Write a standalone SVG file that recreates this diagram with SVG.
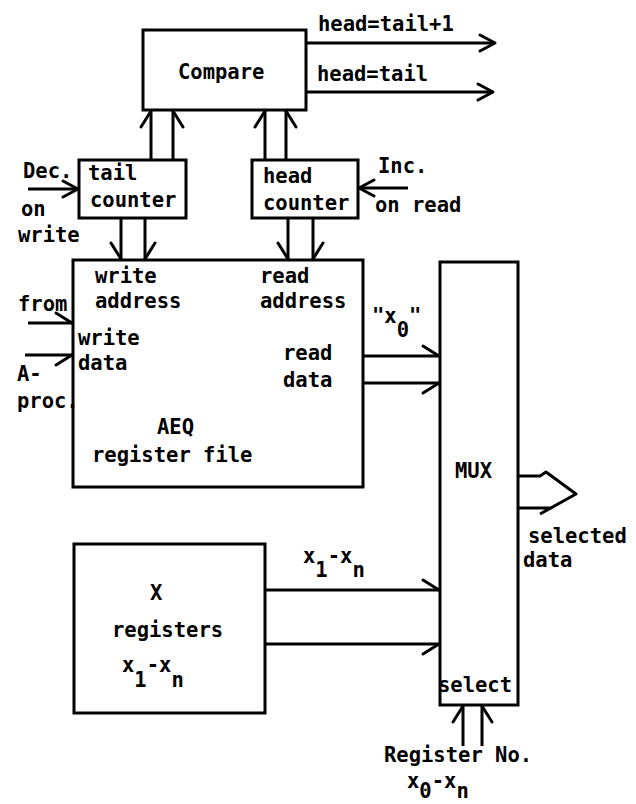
<svg xmlns="http://www.w3.org/2000/svg" width="636" height="804" viewBox="0 0 636 804">
<style>
  .box { fill: none; stroke: #000; stroke-width: 3; }
  .ln { fill: none; stroke: #000; stroke-width: 3; }
  text { font-family: "DejaVu Sans Mono", "Liberation Mono", monospace; font-size: 20.5px; font-weight: bold; fill: #000; }
</style>
<defs>
  <marker id="ah" viewBox="-20 -20 40 40" refX="0" refY="0" markerWidth="40" markerHeight="40" markerUnits="userSpaceOnUse" orient="auto">
    <path d="M-15,-8 L0,0 L-15,8" fill="none" stroke="#000" stroke-width="3" stroke-linecap="round" stroke-linejoin="round"/>
  </marker>
  <marker id="bn" viewBox="-20 -20 40 40" refX="0" refY="0" markerWidth="40" markerHeight="40" markerUnits="userSpaceOnUse" orient="auto">
    <path d="M-16,-10 L0,0" fill="none" stroke="#000" stroke-width="3" stroke-linecap="round"/>
  </marker>
  <marker id="bp" viewBox="-20 -20 40 40" refX="0" refY="0" markerWidth="40" markerHeight="40" markerUnits="userSpaceOnUse" orient="auto">
    <path d="M-16,10 L0,0" fill="none" stroke="#000" stroke-width="3" stroke-linecap="round"/>
  </marker>
</defs>
<rect width="636" height="804" fill="#fff"/>

<g id="compare">
  <rect class="box" x="143" y="30" width="163" height="80"/>
  <text x="178" y="79">Compare</text>
</g>
<g id="tail-counter">
  <rect class="box" x="79" y="160" width="107" height="58"/>
  <text x="88" y="180">tail</text>
  <text x="90" y="207">counter</text>
</g>
<g id="head-counter">
  <rect class="box" x="252" y="160" width="106" height="58"/>
  <text x="263" y="183">head</text>
  <text x="263" y="210">counter</text>
</g>
<g id="aeq">
  <rect class="box" x="73" y="260" width="290" height="227"/>
  <text x="95" y="283">write</text>
  <text x="95" y="308">address</text>
  <text x="260" y="283">read</text>
  <text x="260" y="308">address</text>
  <text x="78" y="345">write</text>
  <text x="78" y="370">data</text>
  <text x="283" y="360">read</text>
  <text x="283" y="387">data</text>
  <text x="157" y="434">AEQ</text>
  <text x="92" y="462">register file</text>
</g>
<g id="mux">
  <rect class="box" x="440" y="262" width="78" height="443"/>
  <text x="455" y="478">MUX</text>
  <text x="438" y="692">select</text>
</g>
<g id="x-registers">
  <rect class="box" x="74" y="544" width="191" height="169"/>
  <text x="150" y="600">X</text>
  <text x="112" y="637">registers</text>
  <text x="122" y="672">x<tspan dy="15">1</tspan><tspan dy="-15">-x</tspan><tspan dy="15">n</tspan></text>
</g>

<g id="connectors">
  <line class="ln" x1="306" y1="43" x2="495" y2="43" marker-end="url(#ah)"/>
  <line class="ln" x1="306" y1="92" x2="493" y2="92" marker-end="url(#ah)"/>
  <line class="ln" x1="151" y1="160" x2="151" y2="111" marker-end="url(#bn)"/>
  <line class="ln" x1="173" y1="160" x2="173" y2="111" marker-end="url(#bp)"/>
  <line class="ln" x1="265" y1="160" x2="265" y2="111" marker-end="url(#bn)"/>
  <line class="ln" x1="286" y1="160" x2="286" y2="111" marker-end="url(#bp)"/>
  <line class="ln" x1="121" y1="218" x2="121" y2="259" marker-end="url(#bp)"/>
  <line class="ln" x1="145" y1="218" x2="145" y2="259" marker-end="url(#bn)"/>
  <line class="ln" x1="288" y1="218" x2="288" y2="259" marker-end="url(#bp)"/>
  <line class="ln" x1="313" y1="218" x2="313" y2="259" marker-end="url(#bn)"/>
  <line class="ln" x1="28" y1="189" x2="78" y2="189" marker-end="url(#ah)"/>
  <line class="ln" x1="408" y1="188" x2="359" y2="188" marker-end="url(#ah)"/>
  <line class="ln" x1="28" y1="323" x2="72" y2="323" marker-end="url(#bn)"/>
  <line class="ln" x1="25" y1="355" x2="72" y2="355" marker-end="url(#bp)"/>
  <line class="ln" x1="363" y1="356" x2="439" y2="356" marker-end="url(#bn)"/>
  <line class="ln" x1="363" y1="383" x2="439" y2="383" marker-end="url(#bp)"/>
  <line class="ln" x1="265" y1="590" x2="439" y2="590" marker-end="url(#bn)"/>
  <line class="ln" x1="265" y1="644" x2="439" y2="644" marker-end="url(#bp)"/>
  <line class="ln" x1="463" y1="746" x2="463" y2="706" marker-end="url(#bn)"/>
  <line class="ln" x1="482" y1="746" x2="482" y2="706" marker-end="url(#bp)"/>
  <path class="ln" d="M518,476 H540 L546,472 L576,494 L540,514 M518,508 H550" stroke-linejoin="round"/>
</g>

<g id="labels">
  <text x="318" y="31">head=tail+1</text>
  <text x="317" y="81">head=tail</text>
  <text x="23" y="178">Dec.</text>
  <text x="21" y="216">on</text>
  <text x="18" y="242">write</text>
  <text x="378" y="173">Inc.</text>
  <text x="375" y="212">on read</text>
  <text x="18" y="311">from</text>
  <text x="17" y="381">A-</text>
  <text x="17" y="408">proc.</text>
  <text x="372" y="323">"x<tspan dy="14">0</tspan><tspan dy="-14">"</tspan></text>
  <text x="528" y="543">selected</text>
  <text x="523" y="567">data</text>
  <text x="303" y="563">x<tspan dy="14">1</tspan><tspan dy="-14">-x</tspan><tspan dy="14">n</tspan></text>
  <text x="384" y="762">Register No.</text>
  <text x="407" y="788">x<tspan dy="10">0</tspan><tspan dy="-10">-x</tspan><tspan dy="10">n</tspan></text>
</g>
</svg>
